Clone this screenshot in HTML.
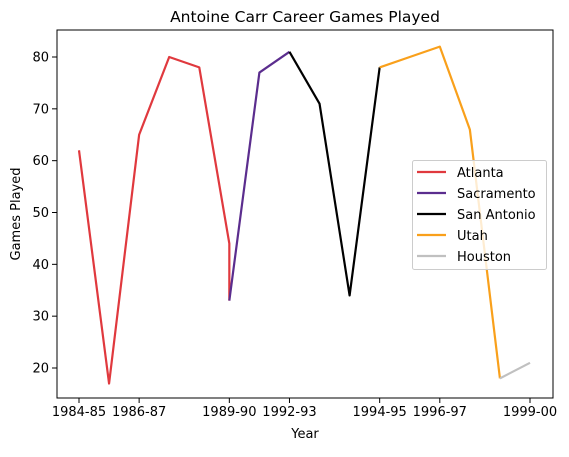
<!DOCTYPE html>
<html><head><meta charset="utf-8"><style>
body{margin:0;background:#fff;font-family:"DejaVu Sans","Liberation Sans",sans-serif}
svg text{font-family:"DejaVu Sans","Liberation Sans",sans-serif;fill:#000}
</style></head><body>
<svg id="c" width="569" height="453" xmlns="http://www.w3.org/2000/svg"></svg>
<script>
const categories=["1984-85","1985-86","1986-87","1987-88","1988-89","1989-90","1990-91","1991-92","1992-93","1993-94","1994-95","1995-96","1996-97","1997-98","1998-99","1999-00"];
const tickIdx=[0,2,5,7,10,12,15];
const tickLabels=["1984-85","1986-87","1989-90","1992-93","1994-95","1996-97","1999-00"];
const yTicks=[20,30,40,50,60,70,80];
const teams=["Atlanta","Sacramento","San Antonio","Utah","Houston"];
const colors=["#e0393e","#5b2d8e","#000000","#f9a01b","#c0c0c0"];
const atlantaIdx=[0,1,2,3,4,5,5];
const atlanta=[62,17,65,80,78,44,33];
const sacramentoIdx=[5,6,7];
const sacramento=[33,77,81];
const sanAntonioIdx=[7,8,9,10];
const sanAntonio=[81,71,34,78];
const utahIdx=[10,11,12,13,14];
const utah=[78,80,82,66,18];
const houstonIdx=[14,15];
const houston=[18,21];
const series=[atlanta,sacramento,sanAntonio,utah,houston];
const seriesIdx=[atlantaIdx,sacramentoIdx,sanAntonioIdx,utahIdx,houstonIdx];

const L=57,R=553,T=30,B=398;
const x=i=>79+i*(530-79)/15;
const y=v=>368-(v-20)*(368-57)/60;
const svg=document.getElementById('c');
const NS="http://www.w3.org/2000/svg";
function mk(t,a,p){const e=document.createElementNS(NS,t);for(const k in a)e.setAttribute(k,a[k]);(p||svg).appendChild(e);return e;}

series.forEach((s,si)=>{
  const pts=s.map((v,j)=>x(seriesIdx[si][j])+","+y(v)).join(" ");
  const pl=mk('polyline',{points:pts,fill:"none",stroke:colors[si],"stroke-width":2.2,"stroke-linejoin":"round"});
  
  
});
const fr=mk('rect',{x:L,y:T,width:R-L,height:B-T,fill:"none",stroke:"#000","stroke-width":1});


tickIdx.forEach((ci,k)=>{
  mk('line',{x1:x(ci),x2:x(ci),y1:B,y2:B+5,stroke:"#000"});
  const t=mk('text',{x:x(ci),y:B+18,"font-size":13,"text-anchor":"middle"});t.textContent=tickLabels[k];
  
  
});
yTicks.forEach(v=>{
  mk('line',{x1:L-5,x2:L,y1:y(v),y2:y(v),stroke:"#000"});
  const t=mk('text',{x:L-8,y:y(v)+4.5,"font-size":13,"text-anchor":"end"});t.textContent=v;
  
  
});
let t=mk('text',{x:(L+R)/2,y:22,"font-size":15.5,"text-anchor":"middle"});t.textContent="Antoine Carr Career Games Played";

t=mk('text',{x:(L+R)/2,y:438,"font-size":13,"text-anchor":"middle"});t.textContent="Year";

t=mk('text',{x:20,y:(T+B)/2,"font-size":13,"text-anchor":"middle",transform:`rotate(-90 20 ${(T+B)/2})`});t.textContent="Games Played";

const lg=mk('g',{});

mk('rect',{x:412.5,y:160.5,width:134,height:109,rx:2,fill:"#fff","fill-opacity":0.8,stroke:"#ccc"},lg);
teams.forEach((n,i)=>{
  const yy=172+i*21;
  mk('line',{x1:417,x2:446,y1:yy,y2:yy,stroke:colors[i],"stroke-width":2.2},lg);
  const tt=mk('text',{x:457,y:yy+5,"font-size":13},lg);tt.textContent=n;
  
  
});
</script>
</body></html>
